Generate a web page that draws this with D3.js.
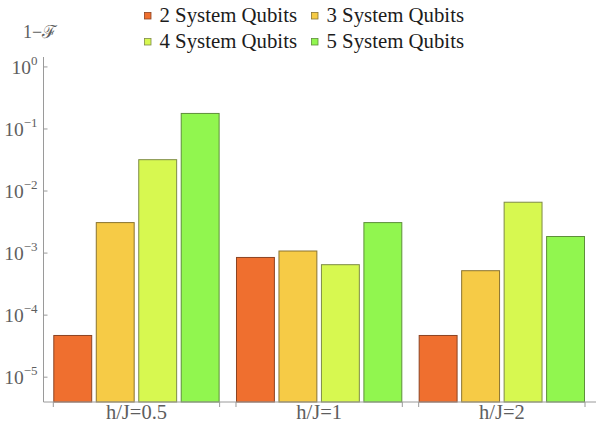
<!DOCTYPE html>
<html>
<head>
<meta charset="utf-8">
<script src="https://cdn.jsdelivr.net/npm/d3@7"></script>
<style>
  html, body { margin: 0; padding: 0; background: #fff; }
  svg { display: block; }
</style>
</head>
<body>
<svg id="chart" width="603" height="425"></svg>
<script>
// Infidelity 1-F per field ratio h/J, one series per system size
const categories = ["h/J=0.5", "h/J=1", "h/J=2"];
const seriesNames = ["2 System Qubits", "3 System Qubits", "4 System Qubits", "5 System Qubits"];
const qubits2 = [4.7e-5, 8.5e-4, 4.7e-5];
const qubits3 = [3.1e-3, 1.08e-3, 5.2e-4];
const qubits4 = [3.2e-2, 6.5e-4, 6.6e-3];
const qubits5 = [1.78e-1, 3.1e-3, 1.85e-3];
const seriesValues = [qubits2, qubits3, qubits4, qubits5];
const yTickExponents = [0, -1, -2, -3, -4, -5];

const fills = ["#EF6F2F", "#F6CB46", "#D7F850", "#91F64F"];
const strokes = ["#8C4322", "#8A7431", "#7E8B46", "#5E8F3A"];

const serif = "'Liberation Serif'";
const svg = d3.select("#chart");
const plotLeft = 43.5, plotBottom = 402, plotTop = 57, plotRight = 596;

const y = d3.scaleLog()
  .domain([Math.pow(10, -5.4), Math.pow(10, 0.16)])
  .range([plotBottom, plotTop]);

const x0 = d3.scaleBand()
  .domain(categories)
  .range([53.3, 585])
  .paddingInner(0.0896)
  .paddingOuter(0);

const x1 = d3.scaleBand()
  .domain(d3.range(seriesNames.length))
  .range([0, x0.bandwidth()])
  .paddingInner(0.084)
  .paddingOuter(0);

const axisColor = "#9a9a9a";
const labelColor = "#5e5e5e";

// bars
const groups = svg.append("g").selectAll("g")
  .data(categories)
  .join("g")
  .attr("transform", d => `translate(${x0(d)},0)`);

groups.selectAll("rect")
  .data((c, ci) => seriesValues.map((vals, si) => ({ si, v: vals[ci] })))
  .join("rect")
  .attr("x", d => x1(d.si) + 0.5)
  .attr("y", d => y(d.v))
  .attr("width", x1.bandwidth() - 1)
  .attr("height", d => plotBottom - y(d.v))
  .attr("fill", d => fills[d.si])
  .attr("stroke", d => strokes[d.si])
  .attr("stroke-width", 1);

// y axis
const yAxis = svg.append("g");
yAxis.append("line")
  .attr("x1", plotLeft).attr("x2", plotLeft)
  .attr("y1", plotTop).attr("y2", plotBottom)
  .attr("stroke", axisColor).attr("stroke-width", 1);

const yt = yAxis.selectAll("g.tick")
  .data(yTickExponents)
  .join("g")
  .attr("class", "tick")
  .attr("transform", e => `translate(0,${y(Math.pow(10, e))})`);
yt.append("line")
  .attr("x1", plotLeft).attr("x2", plotLeft + 4)
  .attr("stroke", axisColor).attr("stroke-width", 1);
const ytx = yt.append("text")
  .attr("x", 37.5)
  .attr("y", 7)
  .attr("text-anchor", "end")
  .style("font-family", serif)
  .attr("fill", labelColor)
  .style("font-size", "19.5px");
ytx.append("tspan").text("10");
ytx.append("tspan")
  .attr("dy", -9.3)
  .style("font-size", "13px")
  .text(e => e === 0 ? "0" : "\u2212" + Math.abs(e));

// y axis title
svg.append("text")
  .attr("x", 23).attr("y", 37.5)
  .style("font-family", serif)
  .attr("fill", labelColor)
  .style("font-size", "18px")
  .text("1\u2212\u2131");

// x axis
const xAxis = svg.append("g");
xAxis.append("line")
  .attr("x1", plotLeft).attr("x2", plotRight)
  .attr("y1", plotBottom).attr("y2", plotBottom)
  .attr("stroke", axisColor).attr("stroke-width", 1);
const edges = [];
categories.forEach(c => { edges.push(x0(c)); edges.push(x0(c) + x0.bandwidth()); });
xAxis.selectAll("line.tick")
  .data(edges)
  .join("line")
  .attr("class", "tick")
  .attr("x1", d => d).attr("x2", d => d)
  .attr("y1", plotBottom).attr("y2", plotBottom + 5)
  .attr("stroke", axisColor).attr("stroke-width", 1);
xAxis.selectAll("text.cat")
  .data(categories)
  .join("text")
  .attr("class", "cat")
  .attr("x", d => x0(d) + x0.bandwidth() / 2)
  .attr("y", 418.5)
  .attr("text-anchor", "middle")
  .style("font-family", serif)
  .attr("fill", labelColor)
  .style("font-size", "20.5px")
  .text(d => d);

// legend, two rows of two
const legendPos = [[144.5, 21.5], [311.5, 21.5], [144.5, 47.5], [311.5, 47.5]];
const lg = svg.append("g").selectAll("g")
  .data(seriesNames)
  .join("g")
  .attr("transform", (d, i) => `translate(${legendPos[i][0]},${legendPos[i][1]})`);
lg.append("rect")
  .attr("x", 0).attr("y", -9)
  .attr("width", 6.5).attr("height", 6.5)
  .attr("fill", (d, i) => fills[i])
  .attr("stroke", (d, i) => strokes[i])
  .attr("stroke-width", 0.8);
lg.append("text")
  .attr("x", 15).attr("y", 0)
  .style("font-family", serif)
  .attr("fill", "#1c1c1c")
  .style("font-size", "20.8px")
  .text(d => d);
</script>
</body>
</html>
